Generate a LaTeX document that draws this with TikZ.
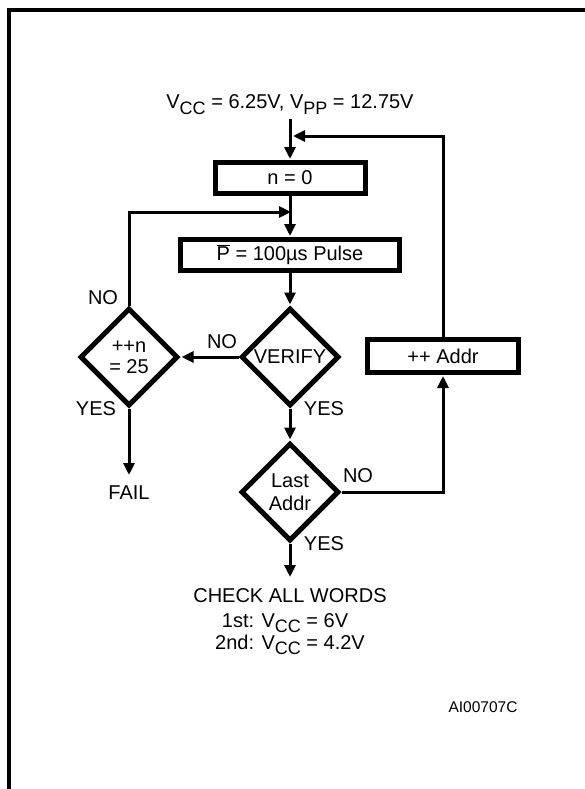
\documentclass[tikz,border=0pt]{standalone}
\usepackage{fontspec}
\setmainfont{Liberation Sans}
\usetikzlibrary{arrows.meta,shapes.geometric}
\newcommand\lowsub[1]{\raisebox{-5.5pt}{\fontsize{18}{18}\selectfont #1}}
\begin{document}
\begin{tikzpicture}[x=1pt,y=-1pt,
  txt/.style={font=\fontsize{20}{23}\selectfont, inner sep=0pt},
  box/.style={draw, line width=5pt, minimum height=31pt, inner sep=0pt, font=\fontsize{20}{23}\selectfont},
  dia/.style={draw, diamond, aspect=1, minimum size=98pt, line width=5pt, inner sep=0pt, align=center},
  conn/.style={line width=3pt, shorten >=1pt, -{Triangle[length=12pt,width=11pt]}},
  frame/.style={line width=4pt}]
\useasboundingbox (0,0) rectangle (584,789);
\draw[frame] (9,795) -- (9,10) -- (590,10);

% nodes
\node[txt, anchor=base] (top) at (290,109) {V\lowsub{CC} = 6.25V, V\lowsub{PP} = 12.75V};
\node[box, minimum width=150pt] (n0) at (290,178) {n = 0};
\node[box, minimum width=219pt] (pulse) at (290,255) {$\overline{\mbox{P}}$ = 100\textmu s Pulse};
\node[box, minimum width=151pt, minimum height=33pt] (addr) at (443,356) {++ Addr};
\node[dia, font=\fontsize{20}{21}\selectfont] (inc) at (129,357) {++n\\= 25};
\node[dia, font=\fontsize{20}{23}\selectfont] (verify) at (290,357) {VERIFY};
\node[dia, font=\fontsize{20}{23}\selectfont] (last) at (290,492) {Last\\Addr};

\node[txt] (no1) at (103,298) {NO};
\node[txt] (no2) at (222,342) {NO};
\node[txt] (yes1) at (96,409) {YES};
\node[txt] (yes2) at (324,409) {YES};
\node[txt] (no3) at (358,476) {NO};
\node[txt] (yes3) at (324,544) {YES};
\node[txt] (fail) at (129,493) {FAIL};
\node[txt, anchor=base] (chk1) at (290,602) {CHECK ALL WORDS};
\node[txt, anchor=base] (chk2) at (285,627) {1st: V\lowsub{CC} = 6V};
\node[txt, anchor=base] (chk3) at (290,649) {2nd: V\lowsub{CC} = 4.2V};
\node[inner sep=0pt, font=\fontsize{15.5}{18}\selectfont] (code) at (483,707) {AI00707C};

% coordinates
\coordinate (start) at (290,119);
\coordinate (j1) at (292,136);
\coordinate (j2) at (292,212);
\coordinate (failtip) at (129,476);
\coordinate (endtip) at (290,578);

% connectors
\draw[conn] (start) -- (n0.north);
\draw[conn] (addr.north) |- (j1);
\draw[conn] (n0.south) -- (pulse.north);
\draw[conn] (inc.north) |- (j2);
\draw[conn] (pulse.south) -- (verify.north);
\draw[conn] (verify.west) -- (inc.east);
\draw[conn] (verify.south) -- (last.north);
\draw[conn] (inc.south) -- (failtip);
\draw[conn] (last.east) -| (addr.south);
\draw[conn] (last.south) -- (endtip);
\end{tikzpicture}
\end{document}
